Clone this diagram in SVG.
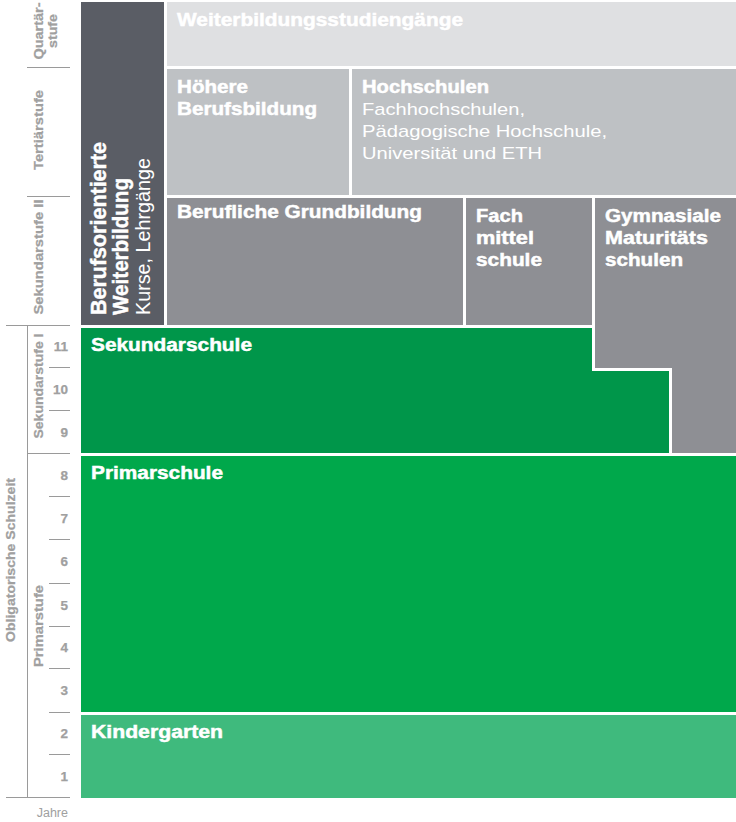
<svg xmlns="http://www.w3.org/2000/svg" width="736" height="822" viewBox="0 0 736 822">
<style>
.lbl{font-family:"Liberation Sans",Arial,sans-serif;font-weight:bold;font-size:17.5px;fill:#fff;stroke:#fff;stroke-width:0.45px}
.reg{font-family:"Liberation Sans",Arial,sans-serif;font-weight:normal;font-size:17px;fill:#fff}
.ax{font-family:"Liberation Sans",Arial,sans-serif;font-weight:bold;font-size:13px;fill:#a0a0a0;stroke:#a0a0a0;stroke-width:0.25px}
.num{font-family:"Liberation Sans",Arial,sans-serif;font-weight:bold;font-size:13.5px;fill:#a0a0a0;text-anchor:end;stroke:#a0a0a0;stroke-width:0.25px}
.axl{stroke:#9a9a9a;stroke-width:1;fill:none}
</style>
<rect width="736" height="822" fill="#fff"/>

<g id="axis">
  <g class="axl">
    <line x1="27" y1="67.5" x2="70" y2="67.5"/>
    <line x1="27" y1="196.5" x2="70" y2="196.5"/>
    <line x1="6" y1="325.5" x2="70" y2="325.5"/>
    <line x1="27.5" y1="325" x2="27.5" y2="797"/>
    <line x1="27" y1="453.5" x2="70" y2="453.5"/>
    <line x1="6" y1="797.5" x2="70" y2="797.5"/>
    <line x1="49" y1="367.5" x2="70" y2="367.5"/>
    <line x1="49" y1="410.5" x2="70" y2="410.5"/>
    <line x1="49" y1="496.5" x2="70" y2="496.5"/>
    <line x1="49" y1="539.5" x2="70" y2="539.5"/>
    <line x1="49" y1="583.5" x2="70" y2="583.5"/>
    <line x1="49" y1="626.5" x2="70" y2="626.5"/>
    <line x1="49" y1="668.5" x2="70" y2="668.5"/>
    <line x1="49" y1="712.5" x2="70" y2="712.5"/>
    <line x1="49" y1="754.5" x2="70" y2="754.5"/>
  </g>
  <text class="ax" transform="translate(43,31) rotate(-90)" text-anchor="middle"><tspan x="0" y="0" textLength="57" lengthAdjust="spacingAndGlyphs">Quartär-</tspan><tspan x="0" y="14" textLength="34" lengthAdjust="spacingAndGlyphs">stufe</tspan></text>
  <text class="ax" transform="translate(43,130) rotate(-90)" text-anchor="middle" textLength="80" lengthAdjust="spacingAndGlyphs">Tertiärstufe</text>
  <text class="ax" transform="translate(43,257) rotate(-90)" text-anchor="middle" textLength="115" lengthAdjust="spacingAndGlyphs">Sekundarstufe II</text>
  <text class="ax" transform="translate(43,386) rotate(-90)" text-anchor="middle" textLength="105" lengthAdjust="spacingAndGlyphs">Sekundarstufe I</text>
  <text class="ax" transform="translate(43,626) rotate(-90)" text-anchor="middle" textLength="82" lengthAdjust="spacingAndGlyphs">Primarstufe</text>
  <text class="ax" transform="translate(15,560) rotate(-90)" text-anchor="middle" textLength="164" lengthAdjust="spacingAndGlyphs">Obligatorische Schulzeit</text>
  <text class="num" x="68" y="351">11</text>
  <text class="num" x="68" y="393.5">10</text>
  <text class="num" x="68" y="436.5">9</text>
  <text class="num" x="68" y="479.5">8</text>
  <text class="num" x="68" y="522.5">7</text>
  <text class="num" x="68" y="566">6</text>
  <text class="num" x="68" y="609.5">5</text>
  <text class="num" x="68" y="652">4</text>
  <text class="num" x="68" y="695">3</text>
  <text class="num" x="68" y="738">2</text>
  <text class="num" x="68" y="780.5">1</text>
  <text x="68" y="817" text-anchor="end" font-family="Liberation Sans, Arial, sans-serif" font-size="12.5" fill="#a0a0a0">Jahre</text>
</g>

<g id="connectors"></g>

<g id="berufsorientierte-weiterbildung">
  <rect x="81" y="2" width="83" height="323" fill="#5a5d65"/>
  <text class="lbl" style="font-size:21.5px" transform="translate(105.5,315) rotate(-90)" textLength="173" lengthAdjust="spacingAndGlyphs">Berufsorientierte</text>
  <text class="lbl" style="font-size:21.5px" transform="translate(128,315) rotate(-90)" textLength="137" lengthAdjust="spacingAndGlyphs">Weiterbildung</text>
  <text class="reg" style="font-size:20px" transform="translate(150,315) rotate(-90)" textLength="157" lengthAdjust="spacingAndGlyphs">Kurse, Lehrgänge</text>
</g>

<g id="weiterbildungsstudiengaenge">
  <rect x="167" y="2" width="569" height="64" fill="#dfe0e2"/>
  <text class="lbl" x="177" y="26" textLength="286" lengthAdjust="spacingAndGlyphs">Weiterbildungsstudiengänge</text>
</g>

<g id="hoehere-berufsbildung">
  <rect x="167" y="69" width="182" height="126" fill="#bec1c4"/>
  <text class="lbl" x="177" y="93" textLength="71" lengthAdjust="spacingAndGlyphs">Höhere</text>
  <text class="lbl" x="177" y="115" textLength="140" lengthAdjust="spacingAndGlyphs">Berufsbildung</text>
</g>

<g id="hochschulen">
  <rect x="352" y="69" width="384" height="126" fill="#bec1c4"/>
  <text class="lbl" x="362" y="93" textLength="127" lengthAdjust="spacingAndGlyphs">Hochschulen</text>
  <text class="reg" x="362" y="115" textLength="163" lengthAdjust="spacingAndGlyphs">Fachhochschulen,</text>
  <text class="reg" x="362" y="137" textLength="245" lengthAdjust="spacingAndGlyphs">Pädagogische Hochschule,</text>
  <text class="reg" x="362" y="158.5" textLength="180" lengthAdjust="spacingAndGlyphs">Universität und ETH</text>
</g>

<g id="berufliche-grundbildung">
  <rect x="167" y="198" width="296" height="127" fill="#8e8f94"/>
  <text class="lbl" x="177" y="218" textLength="245" lengthAdjust="spacingAndGlyphs">Berufliche Grundbildung</text>
</g>

<g id="fachmittelschule">
  <rect x="466" y="198" width="126" height="127" fill="#8e8f94"/>
  <text class="lbl" x="476" y="222" textLength="47" lengthAdjust="spacingAndGlyphs">Fach</text>
  <text class="lbl" x="476" y="244" textLength="58" lengthAdjust="spacingAndGlyphs">mittel</text>
  <text class="lbl" x="476" y="266" textLength="66" lengthAdjust="spacingAndGlyphs">schule</text>
</g>

<g id="gymnasiale-maturitaetsschulen">
  <polygon points="595,198 736,198 736,453 672,453 672,368 595,368" fill="#8e8f94"/>
  <text class="lbl" x="605" y="222" textLength="116" lengthAdjust="spacingAndGlyphs">Gymnasiale</text>
  <text class="lbl" x="605" y="244" textLength="103" lengthAdjust="spacingAndGlyphs">Maturitäts</text>
  <text class="lbl" x="605" y="266" textLength="78" lengthAdjust="spacingAndGlyphs">schulen</text>
</g>

<g id="sekundarschule">
  <polygon points="81,328 592,328 592,371 669,371 669,453 81,453" fill="#00964a"/>
  <text class="lbl" x="91" y="351" textLength="161" lengthAdjust="spacingAndGlyphs">Sekundarschule</text>
</g>

<g id="primarschule">
  <rect x="81" y="456" width="655" height="256" fill="#00a84b"/>
  <text class="lbl" x="91" y="479" textLength="132" lengthAdjust="spacingAndGlyphs">Primarschule</text>
</g>

<g id="kindergarten">
  <rect x="81" y="715" width="655" height="83" fill="#3fba7d"/>
  <text class="lbl" x="91" y="738" textLength="132" lengthAdjust="spacingAndGlyphs">Kindergarten</text>
</g>
</svg>
